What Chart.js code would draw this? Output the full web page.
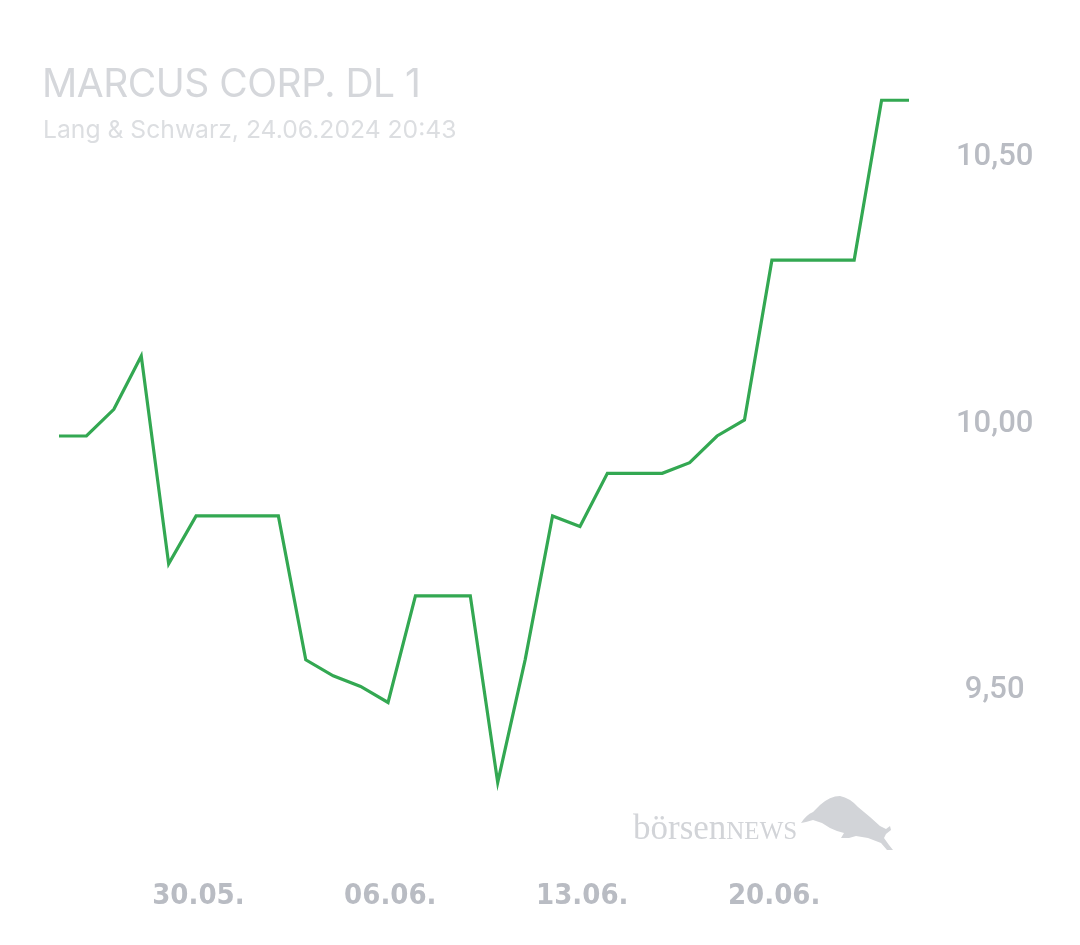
<!DOCTYPE html>
<html>
<head>
<meta charset="utf-8">
<script src="https://cdn.jsdelivr.net/npm/chart.js@4.4.1/dist/chart.umd.min.js"></script>
<style>
  html, body { margin: 0; padding: 0; background: #fff; }
  #wrap { position: relative; width: 1080px; height: 945px; }
  #title { position: absolute; left: 42px; top: 59px; font: 400 39px Inter, sans-serif; color: #d5d7db; letter-spacing: -0.5px; white-space: nowrap; }
  #subtitle { position: absolute; left: 43px; top: 114px; font: 400 24.7px Inter, sans-serif; color: #dcdee1; white-space: nowrap; }
  #brand { position: absolute; left: 633px; top: 808px; font: 400 35px "Liberation Serif", serif; color: #d2d4d8; white-space: nowrap; }
  #brand span { font-size: 25px; }
  #bull { position: absolute; left: 0; top: 0; }
</style>
</head>
<body>
<div id="wrap">
  <canvas id="chart"></canvas>
  <div id="title">MARCUS CORP. DL 1</div>
  <div id="subtitle">Lang &amp; Schwarz, 24.06.2024 20:43</div>
  <div id="brand">börsen<span>NEWS</span></div>
  <svg id="bull" width="1080" height="945">
    <path fill="#d2d4d8" d="M801,823 Q806,815 813,812 L820,805 Q830,796 840,796 Q850,798 858,807 L870,817 L880,826 L886,829 L890,826 L891,830 L886,834 L884,838 L889,845 L893,850 L887,850 L881,843 L868,838 L856,836 L849,838 L841,838 L844,833 L837,831 L830,828 L822,823 L813,820 L806,822 Z"/>
  </svg>
</div>
<script>
// daily closing prices, Lang & Schwarz
const dates = ["24.05.", "25.05.", "26.05.", "27.05.", "28.05.", "29.05.", "30.05.", "31.05.",
  "01.06.", "02.06.", "03.06.", "04.06.", "05.06.", "06.06.", "07.06.", "08.06.",
  "09.06.", "10.06.", "11.06.", "12.06.", "13.06.", "14.06.", "15.06.", "16.06.",
  "17.06.", "18.06.", "19.06.", "20.06.", "21.06.", "22.06.", "23.06.", "24.06."];
const prices = [9.97, 9.97, 10.02, 10.12, 9.73, 9.82, 9.82, 9.82,
  9.82, 9.55, 9.52, 9.50, 9.47, 9.67, 9.67, 9.67,
  9.32, 9.55, 9.82, 9.80, 9.90, 9.90, 9.90, 9.92,
  9.97, 10.00, 10.30, 10.30, 10.30, 10.30, 10.60, 10.60];
const xTickLabels = ["30.05.", "06.06.", "13.06.", "20.06."];
const yTickValues = [9.5, 10.0, 10.5];

const closeHour = 22;
const points = prices.map((p, i) => ({ x: i + closeHour / 24, y: p }));

new Chart(document.getElementById("chart"), {
  type: "line",
  data: {
    datasets: [{
      data: points,
      borderColor: "#33a852",
      borderWidth: 3.2,
      pointRadius: 0,
      tension: 0,
      fill: false
    }]
  },
  options: {
    responsive: true,
    maintainAspectRatio: false,
    animation: false,
    layout: { padding: { left: 59, top: 27, right: 0, bottom: 0 } },
    plugins: { legend: { display: false }, tooltip: { enabled: false } },
    scales: {
      x: {
        type: "linear",
        min: points[0].x,
        max: points[points.length - 1].x,
        grid: { display: false },
        border: { display: false },
        afterBuildTicks: s => { s.ticks = xTickLabels.map(l => ({ value: dates.indexOf(l) })); },
        afterFit: s => { s.height = 96; },
        ticks: {
          autoSkip: false,
          maxRotation: 0,
          padding: 22,
          color: "#b9bcc3",
          font: { family: "'Liberation Sans Narrow', 'DejaVu Sans Condensed', sans-serif", size: 29, weight: "bold" },
          callback: v => dates[Math.round(v)]
        }
      },
      y: {
        position: "right",
        min: 9.195,
        max: 10.68,
        grid: { display: false },
        border: { display: false },
        afterBuildTicks: s => { s.ticks = yTickValues.map(v => ({ value: v })); },
        afterFit: s => { s.width = 171; },
        ticks: {
          padding: 39,
          labelOffset: 4,
          crossAlign: "center",
          color: "#b9bcc3",
          font: { family: "Roboto", size: 31, weight: "500" },
          callback: v => v.toFixed(2).replace(".", ",")
        }
      }
    }
  }
});
</script>
</body>
</html>
